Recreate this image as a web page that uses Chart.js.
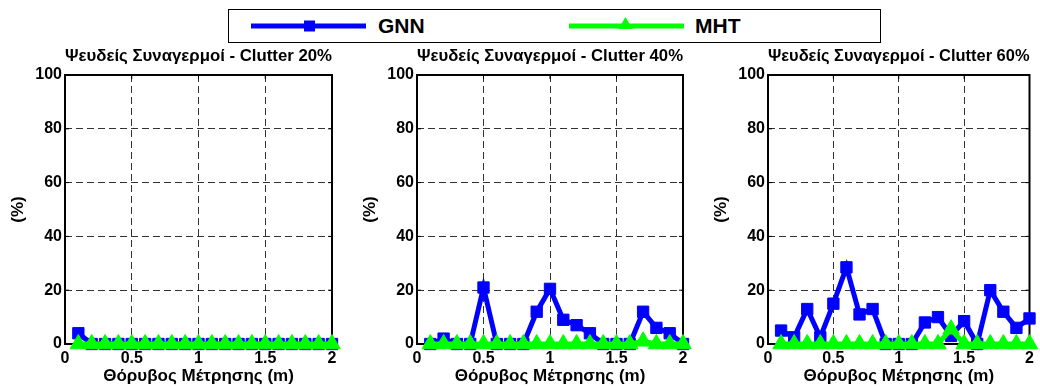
<!DOCTYPE html>
<html>
<head>
<meta charset="utf-8">
<script src="https://cdn.jsdelivr.net/npm/chart.js@4.4.0/dist/chart.umd.min.js"></script>
<style>
  html, body { margin: 0; padding: 0; background: #fff; }
  body { width: 1040px; height: 387px; position: relative; overflow: hidden;
         font-family: "Liberation Sans", Arial, sans-serif; }
  .panel { position: absolute; top: 0; height: 387px; }
  #legend { position: absolute; left: 228px; top: 9px; width: 651px; height: 32px;
            border: 1px solid #000; background: #fff; z-index: 5; }
  .item { position: absolute; top: 0; height: 32px; }
  .item svg { position: absolute; left: 0; top: 0; }
  .item span { position: absolute; top: 4px; font-weight: bold; font-size: 21px; color: #000; }
</style>
</head>
<body>
<div id="legend">
  <div class="item" style="left:21px">
    <svg width="118" height="32"><line x1="1" y1="16" x2="116" y2="16" stroke="#0000ff" stroke-width="5"/><rect x="54" y="10.5" width="11" height="11" fill="#0000ff"/></svg>
    <span style="left:128px">GNN</span>
  </div>
  <div class="item" style="left:339px">
    <svg width="118" height="32"><line x1="1" y1="16" x2="116" y2="16" stroke="#00ff00" stroke-width="5"/><polygon points="57.5,7 64.5,19 50.5,19" fill="#00ff00"/></svg>
    <span style="left:127px">MHT</span>
  </div>
</div>

<canvas id="c20" class="panel" width="350" height="387" style="left:0px"></canvas>
<canvas id="c40" class="panel" width="350" height="387" style="left:352px"></canvas>
<canvas id="c60" class="panel" width="337" height="387" style="left:703px"></canvas>

<script>
// Measurement noise (m)
const noise = [0.1, 0.2, 0.3, 0.4, 0.5, 0.6, 0.7, 0.8, 0.9, 1.0,
               1.1, 1.2, 1.3, 1.4, 1.5, 1.6, 1.7, 1.8, 1.9, 2.0];

// False alarms (%) - clutter 20%
const gnn20 = [4, 0, 0, 0, 0, 0, 0, 0, 0, 0, 0, 0, 0, 0, 0, 0, 0, 0, 0, 0];
const mht20 = [0, 0, 0, 0, 0, 0, 0, 0, 0, 0, 0, 0, 0, 0, 0, 0, 0, 0, 0, 0];

// False alarms (%) - clutter 40%
const gnn40 = [0, 2, 0, 0, 21, 0, 0, 0, 12, 20.5, 9, 7, 4, 0, 0, 0, 12, 6, 4, 0];
const mht40 = [0, 0, 0, 0, 0, 0, 0, 0, 0, 0, 0, 0, 0, 0, 0, 0, 1, 0, 0, 0];

// False alarms (%) - clutter 60%
const gnn60 = [5, 2.5, 13, 2.5, 15, 28.5, 11, 13, 0, 0, 0, 8, 10, 3, 8.5, 0, 20, 12, 6, 9.5];
const mht60 = [0, 0, 0, 0, 0, 0, 0, 0, 0, 0, 0, 0, 0, 5.5, 0, 0, 0, 0, 0, 0];

const xTicks = [0, 0.5, 1, 1.5, 2];
const xTickLabels = ['0', '0.5', '1', '1.5', '2'];
const yTicks = [0, 20, 40, 60, 80, 100];

const panelTitles = [
  'Ψευδείς Συναγερμοί - Clutter 20%',
  'Ψευδείς Συναγερμοί - Clutter 40%',
  'Ψευδείς Συναγερμοί - Clutter 60%'
];
const xTitle = 'Θόρυβος Μέτρησης (m)';
const yTitle = '(%)';

const FONT = 'Liberation Sans';
const boldFont = size => ({ family: FONT, size: size, weight: 'bold', lineHeight: 1.2 });

// Axes box with short inward tick marks on all four sides
const framePlugin = {
  id: 'frame',
  beforeDatasetsDraw(chart) {
    const { ctx, chartArea: a, scales } = chart;
    ctx.save();
    ctx.strokeStyle = '#000';
    ctx.lineWidth = 1;
    ctx.beginPath();
    const len = 4;
    xTicks.forEach(v => {
      const px = scales.x.getPixelForValue(v);
      ctx.moveTo(px, a.bottom); ctx.lineTo(px, a.bottom - len);
      ctx.moveTo(px, a.top); ctx.lineTo(px, a.top + len);
    });
    yTicks.forEach(v => {
      const py = scales.y.getPixelForValue(v);
      ctx.moveTo(a.left, py); ctx.lineTo(a.left + len, py);
      ctx.moveTo(a.right, py); ctx.lineTo(a.right - len, py);
    });
    ctx.stroke();
    ctx.lineWidth = 2;
    ctx.strokeRect(a.left, a.top, a.right - a.left, a.bottom - a.top);
    ctx.restore();
  }
};

function toPoints(ys) {
  return noise.map((x, i) => ({ x: x, y: ys[i] }));
}

function makePanel(canvasId, title, gnn, mht, rightPad) {
  new Chart(document.getElementById(canvasId), {
    type: 'line',
    data: {
      datasets: [
        {
          label: 'GNN', data: toPoints(gnn),
          borderColor: '#0000ff', backgroundColor: '#0000ff',
          borderWidth: 5, pointStyle: 'rect', pointRadius: 8,
          pointBorderWidth: 1, pointBorderColor: '#0000ff', pointBackgroundColor: '#0000ff',
          tension: 0, clip: false, order: 1
        },
        {
          label: 'MHT', data: toPoints(mht),
          borderColor: '#00ff00', backgroundColor: '#00ff00',
          borderWidth: 5, pointStyle: 'triangle', pointRadius: 9.5,
          pointBorderWidth: 1, pointBorderColor: '#00ff00', pointBackgroundColor: '#00ff00',
          tension: 0, clip: false, order: 0
        }
      ]
    },
    options: {
      responsive: false,
      animation: false,
      events: [],
      layout: { padding: { left: 0, right: rightPad, top: 0, bottom: 0 } },
      plugins: {
        legend: { display: false },
        tooltip: { enabled: false },
        title: {
          display: true, text: title, color: '#000', fullSize: false,
          font: boldFont(17), padding: { top: 46, bottom: 8.6 }
        }
      },
      scales: {
        x: {
          type: 'linear', min: 0, max: 2,
          afterBuildTicks: s => { s.ticks = xTicks.map(v => ({ value: v })); },
          afterFit: s => { s.height = 43; },
          ticks: {
            color: '#000', font: boldFont(16), padding: 5, maxRotation: 0, autoSkip: false,
            callback: (value, index) => xTickLabels[index]
          },
          grid: { color: 'rgba(0,0,0,0.8)', lineWidth: 1, drawTicks: false },
          border: { display: false, dash: [7, 4] },
          title: { display: true, text: xTitle, color: '#000', font: boldFont(17),
                   padding: { top: 0, bottom: 0 } }
        },
        y: {
          type: 'linear', min: 0, max: 100,
          afterBuildTicks: s => { s.ticks = yTicks.map(v => ({ value: v })); },
          afterFit: s => { s.width = 65; },
          ticks: { color: '#000', font: boldFont(16), padding: 3 },
          grid: { color: 'rgba(0,0,0,0.8)', lineWidth: 1, drawTicks: false },
          border: { display: false, dash: [7, 4] },
          title: { display: true, text: yTitle, color: '#000', font: boldFont(17),
                   padding: { top: 7.8, bottom: 7.8 } }
        }
      }
    },
    plugins: [framePlugin]
  });
}

makePanel('c20', panelTitles[0], gnn20, mht20, 18);
makePanel('c40', panelTitles[1], gnn40, mht40, 19);
makePanel('c60', panelTitles[2], gnn60, mht60, 8);
</script>
</body>
</html>
